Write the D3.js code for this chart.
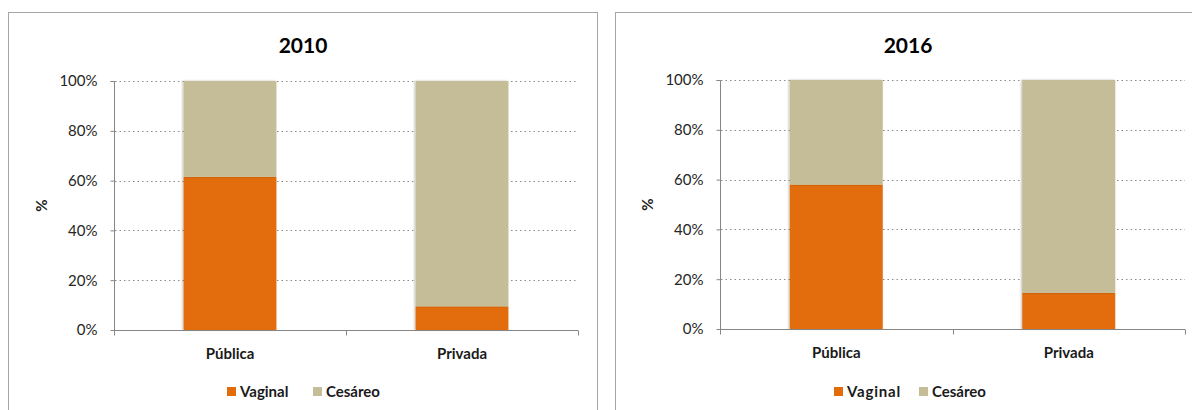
<!DOCTYPE html>
<html>
<head>
<meta charset="utf-8">
<script src="https://cdn.jsdelivr.net/npm/d3@7"></script>
<style>
  html, body { margin: 0; padding: 0; background: #fff; }
  svg { display: block; }
  text { font-family: Lato, "Open Sans", sans-serif; }
</style>
</head>
<body>
<svg id="chart" width="1192" height="410"></svg>
<script>
// Share of births by delivery type, public vs private sector
const categories = ["Pública", "Privada"];
const seriesNames = ["Vaginal", "Cesáreo"];
const years = ["2010", "2016"];
const vaginal2010 = [61.5, 9.5];
const cesareo2010 = [38.5, 90.5];
const vaginal2016 = [58, 14.5];
const cesareo2016 = [42, 85.5];
const yTicks = [0, 20, 40, 60, 80, 100];

const colors = { "Vaginal": "#E36C0A", "Cesáreo": "#C4BD97" };

const panels = [
  { year: years[0], vaginal: vaginal2010, cesareo: cesareo2010,
    frame: { x: 8.5, y: 12.5, w: 589, h: 420 },
    plot: { left: 114, right: 578, top: 81, bottom: 330 },
    titleX: 303, yLabelX: 42, legendX: 227, legendGap: 86, legendSpacing: 0 },
  { year: years[1], vaginal: vaginal2016, cesareo: cesareo2016,
    frame: { x: 615.5, y: 12.5, w: 600, h: 420 },
    plot: { left: 720, right: 1185, top: 80, bottom: 329 },
    titleX: 908, yLabelX: 648, legendX: 834, legendGap: 85, legendSpacing: 0.8 }
];

const svg = d3.select("#chart");

const defs = svg.append("defs");
const shadow = defs.append("filter").attr("id", "barShadow")
  .attr("x", "-10%").attr("y", "-5%").attr("width", "120%").attr("height", "110%");
shadow.append("feDropShadow").attr("dx", -1).attr("dy", 0).attr("stdDeviation", 1)
  .attr("flood-color", "#000").attr("flood-opacity", 0.25);

panels.forEach(p => {
  const g = svg.append("g");

  // chart frame
  g.append("rect")
    .attr("x", p.frame.x).attr("y", p.frame.y)
    .attr("width", p.frame.w).attr("height", p.frame.h)
    .attr("fill", "#fff").attr("stroke", "#a6a6a6").attr("stroke-width", 1);

  const x = d3.scaleBand().domain(categories)
    .range([p.plot.left, p.plot.right]).paddingInner(0.6).paddingOuter(0.3);
  const y = d3.scaleLinear().domain([0, 100]).range([p.plot.bottom, p.plot.top]);

  // dotted gridlines
  g.append("g").selectAll("line").data(yTicks.filter(t => t > 0)).join("line")
    .attr("x1", p.plot.left + 1).attr("x2", p.plot.right)
    .attr("y1", d => Math.round(y(d)) + 0.5).attr("y2", d => Math.round(y(d)) + 0.5)
    .attr("stroke", "#8c8c8c").attr("stroke-width", 1)
    .attr("stroke-dasharray", "1.5,3");

  // stacked bars
  const rows = categories.map((c, i) => ({ cat: c, Vaginal: p.vaginal[i], "Cesáreo": p.cesareo[i] }));
  const stacked = d3.stack().keys(seriesNames)(rows);
  g.append("g").selectAll("g").data(stacked).join("g")
    .attr("fill", d => colors[d.key])
    .selectAll("rect").data(d => d).join("rect")
      .attr("x", d => x(d.data.cat))
      .attr("width", x.bandwidth())
      .attr("y", d => y(d[1]))
      .attr("height", d => y(d[0]) - y(d[1]))
      .attr("filter", "url(#barShadow)");

  // y axis
  const yAxis = d3.axisLeft(y).tickValues(yTicks).tickSize(4).tickPadding(13)
    .tickFormat(d => d + "%");
  const ya = g.append("g").attr("transform", `translate(${p.plot.left + 0.5},0)`).call(yAxis);
  ya.select(".domain").attr("stroke", "#868686").attr("d", `M-4,${p.plot.top}.5H0V${p.plot.bottom}`);
  ya.selectAll(".tick line").attr("stroke", "#868686");
  ya.selectAll(".tick text").attr("fill", "#262626").attr("font-size", 15)
    .attr("font-family", "Lato, sans-serif");

  // x axis: ticks at category boundaries
  const xa = g.append("g").attr("transform", `translate(0,${p.plot.bottom + 0.5})`);
  xa.append("line").attr("x1", p.plot.left).attr("x2", p.plot.right)
    .attr("stroke", "#868686");
  const bounds = [p.plot.left, (p.plot.left + p.plot.right) / 2, p.plot.right];
  xa.selectAll(".bt").data(bounds).join("line").attr("class", "bt")
    .attr("x1", d => Math.round(d) + 0.5).attr("x2", d => Math.round(d) + 0.5)
    .attr("y1", 0).attr("y2", 5).attr("stroke", "#868686");
  xa.selectAll("text").data(categories).join("text")
    .attr("x", d => x(d) + x.bandwidth() / 2).attr("y", 28)
    .attr("text-anchor", "middle").attr("font-size", 15).attr("font-weight", "bold")
    .attr("fill", "#1a1a1a").text(d => d);

  // title
  g.append("text").attr("x", p.titleX).attr("y", 53)
    .attr("text-anchor", "middle").attr("font-size", 21).attr("font-weight", "bold")
    .attr("fill", "#000").text(p.year);

  // y axis title
  g.append("text")
    .attr("transform", `translate(${p.yLabelX + 5},${(p.plot.top + p.plot.bottom) / 2}) rotate(-90)`)
    .attr("text-anchor", "middle").attr("font-size", 15).attr("font-weight", "bold")
    .attr("fill", "#1a1a1a").text("%");

  // legend
  const lg = g.append("g").attr("transform", `translate(${p.legendX},386)`);
  const offsets = [0, p.legendGap];
  seriesNames.forEach((s, i) => {
    lg.append("rect").attr("x", offsets[i]).attr("y", 1).attr("width", 9).attr("height", 9)
      .attr("fill", colors[s]);
    lg.append("text").attr("x", offsets[i] + 13).attr("y", 11)
      .attr("font-size", 15).attr("font-weight", "bold")
      .attr("letter-spacing", i === 0 ? p.legendSpacing : 0)
      .attr("fill", "#1a1a1a").text(s);
  });
});
</script>
</body>
</html>
